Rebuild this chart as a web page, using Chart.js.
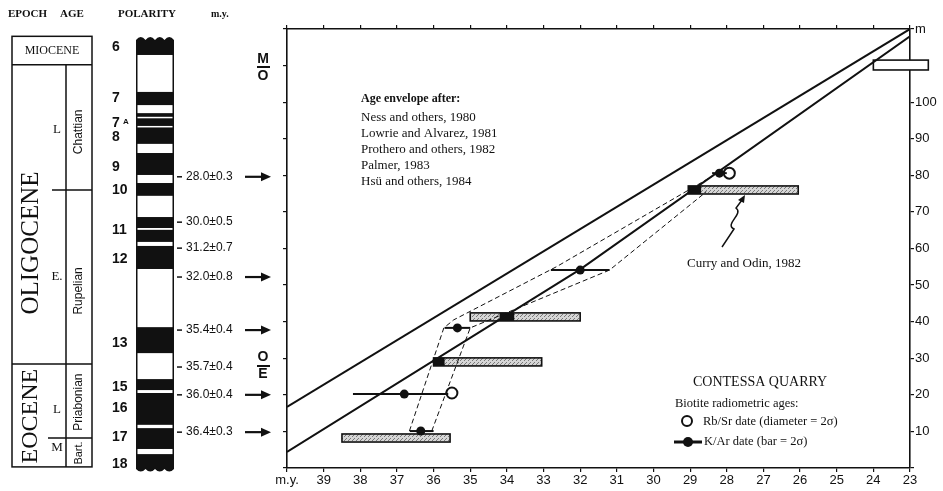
<!DOCTYPE html>
<html>
<head>
<meta charset="utf-8">
<script src="https://cdn.jsdelivr.net/npm/chart.js@4.4.1/dist/chart.umd.min.js"></script>
<style>
  html, body { margin: 0; padding: 0; background: #fff; }
  canvas { display: block; }
</style>
</head>
<body>
<canvas id="chart" width="943" height="491"></canvas>
<script>
// Age envelope lines (age in m.y., height in m)
const upperAges = [40, 23];
const upperMeters = [16.7, 120];
const lowerAges = [40, 32, 23];
const lowerMeters = [4.4, 54.3, 118];

// dashed envelope through the dates
const dashLeftAges = [36.66, 35.72, 35.45, 32.65, 28.35];
const dashLeftMeters = [10.1, 38.3, 40.5, 55, 80];
const dashRightAges = [36.05, 35.0, 31.2, 28.56];
const dashRightMeters = [10.1, 38.3, 54.1, 75.5];

// K/Ar dates with 2 sigma bars
const kArAges = [36.35, 36.8, 35.35, 32.0, 28.2];
const kArMeters = [10.1, 20.2, 38.3, 54.1, 80.6];
const kArBarOld = [36.65, 38.2, 35.7, 32.8, 28.4];
const kArBarYoung = [36.0, 35.6, 35.0, 31.2, 28.0];

// Rb/Sr dates
const rbSrAges = [35.5, 27.93];
const rbSrMeters = [20.5, 80.6];

// Curry and Odin, 1982 boxes
const boxOld = [38.5, 36.0, 35.0, 29.05, 24.0];
const boxYoung = [35.55, 33.05, 32.0, 26.05, 22.5];
const boxBottom = [7.1, 27.9, 40.2, 74.9, 108.8];
const boxTop = [9.3, 30.1, 42.4, 77.1, 111.5];
const boxShaded = [true, true, true, true, false];
const boxDarkOld = [null, 36.0, 34.2, 29.05, null];
const boxDarkYoung = [null, 35.7, 33.8, 28.7, null];

// polarity column (meters), white = reversed bands
const whiteBandTop = [112.9, 99.2, 96.0, 93.5, 88.6, 80.1, 74.4, 65.6, 61.8, 54.4, 31.4, 21.3, 11.8, 5.2];
const whiteBandBottom = [102.8, 97.0, 95.7, 93.2, 86.1, 77.9, 68.6, 65.1, 60.7, 38.5, 24.3, 20.5, 10.9, 3.8];
const zoneLabels = ['6', '7', '7', '8', '9', '10', '11', '12', '13', '15', '16', '17', '18'];
const zoneMeters = [115, 101, 94.3, 90.5, 82.3, 76, 65, 57.1, 34.2, 22.1, 16.4, 8.5, 1.1];
const dateLabels = ['28.0±0.3', '30.0±0.5', '31.2±0.7', '32.0±0.8', '35.4±0.4', '35.7±0.4', '36.0±0.4', '36.4±0.3'];
const dateMeters = [79.6, 67.2, 60.1, 52.2, 37.7, 27.6, 20, 9.8];
const dateArrow = [true, false, false, true, true, false, true, true];

// stratigraphic column boundaries (meters)
const stratTop = 118, mioceneBase = 110.2, chattianBase = 76, oligoceneBase = 28.4, priabonianBase = 8.2, stratBottom = 0.3;

const referenceList = ['Ness and others, 1980', 'Lowrie and Alvarez, 1981', 'Prothero and others, 1982', 'Palmer, 1983', 'Hsü and others, 1984'];

const SERIF = '"Liberation Serif", "Times New Roman", serif';
const SANS = '"Liberation Sans", Arial, sans-serif';
const INK = '#111';

function pts(xs, ys) { return xs.map((x, i) => ({ x: x, y: ys[i] })); }

const datasets = [
    { data: pts(upperAges, upperMeters), borderColor: INK, borderWidth: 2 },
    { data: pts(lowerAges, lowerMeters), borderColor: INK, borderWidth: 2 },
    { data: pts(dashLeftAges, dashLeftMeters), borderColor: INK, borderWidth: 1, borderDash: [5, 3] },
    { data: pts(dashRightAges, dashRightMeters), borderColor: INK, borderWidth: 1, borderDash: [5, 3] }
];
kArAges.forEach((a, i) => {
    datasets.push({
        data: [{ x: kArBarOld[i], y: kArMeters[i] }, { x: kArBarYoung[i], y: kArMeters[i] }],
        borderColor: INK, borderWidth: 2
    });
});
datasets.push({
    data: pts(kArAges, kArMeters), showLine: false,
    pointRadius: 4.5, pointBackgroundColor: INK, pointBorderColor: INK, pointBorderWidth: 0
});
datasets.push({
    data: pts(rbSrAges, rbSrMeters), showLine: false,
    pointRadius: 5.5, pointBackgroundColor: '#fff', pointBorderColor: INK, pointBorderWidth: 2
});
datasets.forEach(d => {
    if (d.showLine === undefined) { d.showLine = true; d.pointRadius = 0; }
    d.fill = false;
});

function hatch(ctx) {
    const c = document.createElement('canvas');
    c.width = 4; c.height = 4;
    const g = c.getContext('2d');
    g.fillStyle = '#d6d6d6'; g.fillRect(0, 0, 4, 4);
    g.fillStyle = '#7a7a7a';
    g.fillRect(0, 0, 1, 1); g.fillRect(2, 2, 1, 1); g.fillRect(1, 3, 1, 1);
    return ctx.createPattern(c, 'repeat');
}

function arrow(ctx, x0, x1, yy) {
    ctx.beginPath();
    ctx.moveTo(x0, yy); ctx.lineTo(x1 - 7, yy);
    ctx.lineWidth = 2.2; ctx.stroke();
    ctx.beginPath();
    ctx.moveTo(x1, yy); ctx.lineTo(x1 - 10, yy - 4.5); ctx.lineTo(x1 - 10, yy + 4.5);
    ctx.closePath(); ctx.fill();
}

function vtext(ctx, txt, x, y, font) {
    ctx.save();
    ctx.translate(x, y); ctx.rotate(-Math.PI / 2);
    ctx.font = font; ctx.textAlign = 'center'; ctx.textBaseline = 'middle';
    ctx.fillText(txt, 0, 0);
    ctx.restore();
}

const decor = {
    id: 'decor',
    beforeDatasetsDraw(chart) {
        const ctx = chart.ctx, xs = chart.scales.x, ys = chart.scales.y;
        ctx.save();
        const pat = hatch(ctx);
        boxOld.forEach((b, i) => {
            const x0 = xs.getPixelForValue(b), x1 = xs.getPixelForValue(boxYoung[i]);
            const y0 = ys.getPixelForValue(boxTop[i]), y1 = ys.getPixelForValue(boxBottom[i]);
            ctx.fillStyle = boxShaded[i] ? pat : '#fff';
            ctx.fillRect(x0, y0, x1 - x0, y1 - y0);
            if (boxDarkOld[i] !== null) {
                const d0 = xs.getPixelForValue(boxDarkOld[i]), d1 = xs.getPixelForValue(boxDarkYoung[i]);
                ctx.fillStyle = INK;
                ctx.fillRect(d0, y0, d1 - d0, y1 - y0);
            }
            ctx.strokeStyle = INK; ctx.lineWidth = 1.6;
            ctx.strokeRect(x0, y0, x1 - x0, y1 - y0);
        });
        ctx.restore();
    },
    afterDraw(chart) {
        const ctx = chart.ctx, ys = chart.scales.y;
        const py = v => ys.getPixelForValue(v);
        ctx.save();
        ctx.fillStyle = INK; ctx.strokeStyle = INK;

        // headers
        ctx.textBaseline = 'middle'; ctx.textAlign = 'left';
        ctx.font = 'bold 11px ' + SERIF;
        ctx.fillText('EPOCH', 8, 14);
        ctx.fillText('AGE', 60, 14);
        ctx.fillText('POLARITY', 118, 14);
        ctx.font = 'bold 10px ' + SERIF;
        ctx.fillText('m.y.', 211, 14);

        // stratigraphic column
        ctx.lineWidth = 1.5;
        ctx.strokeRect(12, py(stratTop), 80, py(stratBottom) - py(stratTop));
        ctx.beginPath();
        ctx.moveTo(12, py(mioceneBase)); ctx.lineTo(92, py(mioceneBase));
        ctx.moveTo(66, py(mioceneBase)); ctx.lineTo(66, py(stratBottom));
        ctx.moveTo(52, py(chattianBase)); ctx.lineTo(92, py(chattianBase));
        ctx.moveTo(12, py(oligoceneBase)); ctx.lineTo(92, py(oligoceneBase));
        ctx.moveTo(48, py(priabonianBase)); ctx.lineTo(92, py(priabonianBase));
        ctx.stroke();
        ctx.textAlign = 'center';
        ctx.font = '12px ' + SERIF;
        ctx.fillText('MIOCENE', 52, py((stratTop + mioceneBase) / 2));
        ctx.font = '13px ' + SERIF;
        ctx.fillText('L', 57, py(92.4));
        ctx.fillText('E.', 57, py(52.2));
        ctx.fillText('L', 57, py(15.9));
        ctx.fillText('M', 57, py(5.7));
        vtext(ctx, 'OLIGOCENE', 31, py(61.5), '25px ' + SERIF);
        vtext(ctx, 'EOCENE', 31, py(14.2), '24px ' + SERIF);
        vtext(ctx, 'Chattian', 79, py(91.9), '12px ' + SANS);
        vtext(ctx, 'Rupelian', 79, py(48.4), '12px ' + SANS);
        vtext(ctx, 'Priabonian', 79, py(18), '12px ' + SANS);
        vtext(ctx, 'Bart.', 79, py(4.1), '11px ' + SANS);

        // polarity column
        const cx0 = 136, cx1 = 174, top = py(117), bot = py(0) + 1;
        const n = 4, w = (cx1 - cx0) / n;
        ctx.beginPath();
        ctx.moveTo(cx0, bot); ctx.lineTo(cx0, top);
        for (let i = 0; i < n; i++) ctx.quadraticCurveTo(cx0 + w * (i + 0.5), top - 6, cx0 + w * (i + 1), top);
        ctx.lineTo(cx1, bot);
        for (let i = 0; i < n; i++) ctx.quadraticCurveTo(cx1 - w * (i + 0.5), bot + 5, cx1 - w * (i + 1), bot);
        ctx.closePath(); ctx.fill();
        ctx.fillStyle = '#fff';
        whiteBandTop.forEach((t, i) => {
            const y0 = py(t), y1 = py(whiteBandBottom[i]);
            ctx.fillRect(137.5, y0, 35, Math.max(1.5, y1 - y0));
        });
        ctx.fillStyle = INK;

        ctx.textAlign = 'left';
        ctx.font = 'bold 14px ' + SANS;
        zoneLabels.forEach((z, i) => {
            ctx.fillText(z, 112, py(zoneMeters[i]));
            if (i === 2) {
                ctx.font = 'bold 8px ' + SANS;
                ctx.fillText('A', 123, py(zoneMeters[i]) - 1);
                ctx.font = 'bold 14px ' + SANS;
            }
        });

        ctx.font = '12px ' + SANS;
        dateLabels.forEach((d, i) => {
            const yy = py(dateMeters[i]);
            ctx.lineWidth = 1.5;
            ctx.beginPath(); ctx.moveTo(177, yy); ctx.lineTo(182, yy); ctx.stroke();
            ctx.fillText(d, 186, yy);
            if (dateArrow[i]) arrow(ctx, 245, 271, yy);
        });

        // epoch boundary markers
        ctx.textAlign = 'center';
        ctx.font = 'bold 14px ' + SANS;
        ctx.fillText('M', 263, py(109.6) - 8);
        ctx.fillText('O', 263, py(109.6) + 9);
        ctx.fillText('O', 263, py(27.9) - 9);
        ctx.fillText('E', 263, py(27.9) + 8);
        ctx.lineWidth = 2;
        ctx.beginPath();
        ctx.moveTo(257, py(109.6)); ctx.lineTo(270, py(109.6));
        ctx.moveTo(257, py(27.9)); ctx.lineTo(270, py(27.9));
        ctx.stroke();

        // age envelope note
        ctx.textAlign = 'left';
        ctx.font = 'bold 12px ' + SERIF;
        ctx.fillText('Age envelope after:', 361, 99);
        ctx.font = '13px ' + SERIF;
        referenceList.forEach((r, i) => ctx.fillText(r, 361, 118 + i * 15.8));

        // Curry and Odin label with wavy arrow
        ctx.fillText('Curry and Odin, 1982', 687, 264);
        ctx.lineWidth = 1.5;
        ctx.beginPath();
        ctx.moveTo(722, 247);
        ctx.lineTo(734, 229);
        ctx.bezierCurveTo(724, 224, 744, 214, 736, 208);
        ctx.lineTo(742, 200);
        ctx.stroke();
        ctx.beginPath();
        ctx.moveTo(745, 195); ctx.lineTo(738, 200); ctx.lineTo(744, 203);
        ctx.closePath(); ctx.fill();

        // legend
        ctx.font = '14px ' + SERIF;
        ctx.fillText('CONTESSA QUARRY', 693, 382);
        ctx.font = '12.5px ' + SERIF;
        ctx.fillText('Biotite radiometric ages:', 675, 404);
        ctx.fillText('Rb/Sr date (diameter = 2σ)', 703, 422);
        ctx.fillText('K/Ar date (bar = 2σ)', 704, 442);
        ctx.lineWidth = 2;
        ctx.beginPath(); ctx.arc(687, 421, 5, 0, Math.PI * 2); ctx.stroke();
        ctx.lineWidth = 3;
        ctx.beginPath(); ctx.moveTo(674, 442); ctx.lineTo(702, 442); ctx.stroke();
        ctx.beginPath(); ctx.arc(688, 442, 5, 0, Math.PI * 2); ctx.fill();

        ctx.restore();
    }
};

const tickFont = { family: SANS, size: 13 };
const axisGrid = { drawOnChartArea: false, drawTicks: true, tickLength: 4, color: INK, lineWidth: 1.2 };
const axisBorder = { display: true, color: INK, width: 1.6 };

new Chart(document.getElementById('chart'), {
    type: 'scatter',
    data: { datasets: datasets },
    plugins: [decor],
    options: {
        responsive: false,
        animation: false,
        devicePixelRatio: 1,
        layout: { padding: 0 },
        plugins: { legend: { display: false }, tooltip: { enabled: false } },
        scales: {
            x: {
                type: 'linear', position: 'bottom', reverse: true, min: 23, max: 40,
                grid: axisGrid, border: axisBorder,
                ticks: {
                    stepSize: 1, color: INK, font: tickFont, padding: 1, maxRotation: 0, autoSkip: false,
                    callback: v => v === 40 ? 'm.y.' : v
                },
                afterFit: s => { s.height = 23; }
            },
            xTop: {
                type: 'linear', position: 'top', reverse: true, min: 23, max: 40,
                grid: axisGrid, border: axisBorder,
                ticks: { stepSize: 1, display: false },
                afterFit: s => { s.height = 29; }
            },
            y: {
                type: 'linear', position: 'right', min: 0, max: 120,
                grid: axisGrid, border: axisBorder,
                ticks: {
                    stepSize: 10, color: INK, font: tickFont, padding: 1,
                    callback: v => v === 120 ? 'm' : (v === 0 || v === 110 ? '' : v)
                },
                afterFit: s => { s.width = 33; }
            },
            yLeft: {
                type: 'linear', position: 'left', min: 0, max: 120,
                grid: axisGrid, border: axisBorder,
                ticks: { stepSize: 10, display: false },
                afterFit: s => { s.width = 287; }
            }
        }
    }
});
</script>
</body>
</html>
